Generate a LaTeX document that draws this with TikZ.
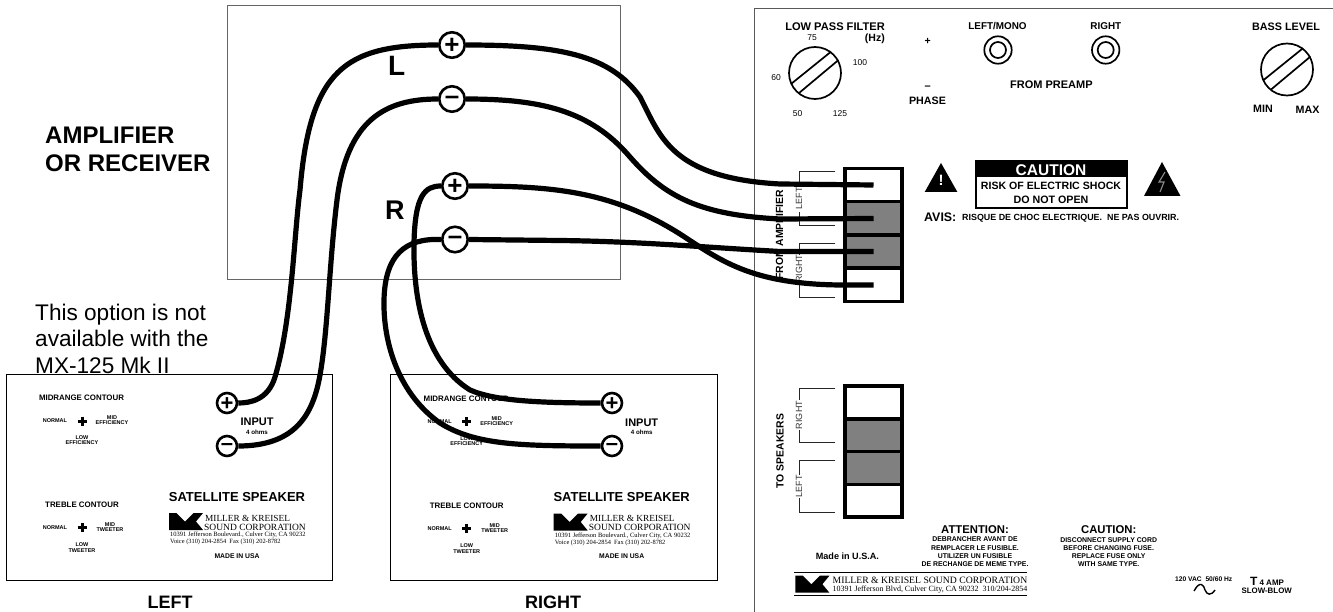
\documentclass[tikz,border=0pt]{standalone}
\usepackage{fontspec}
\setmainfont{Liberation Sans}
\newfontfamily\serifmk{Liberation Serif}
\newcommand\fs[1]{\fontsize{#1}{#1}\selectfont}
\tikzset{
  bt/.style={inner sep=0,font=\bfseries\fs{#1}},
  rt/.style={inner sep=0,font=\fs{#1}},
  st/.style={inner sep=0,anchor=west,font=\serifmk\fs{#1}},
  bl/.style 2 args={inner sep=0,align=center,font=\bfseries\fontsize{#1}{#2}\selectfont},
  rl/.style 2 args={inner sep=0,align=left,font=\fontsize{#1}{#2}\selectfont},
  spkbox/.style={draw=black,line width=1},
  wire/.style={draw=black,line width=5.2},
  termA/.style={circle,draw=black,fill=white,line width=2.6,minimum size=25.5,inner sep=0},
  termS/.style={circle,draw=black,fill=white,line width=2.6,minimum size=20,inner sep=0},
  signA/.style={inner sep=0,yshift=-1pt,font=\bfseries\fs{26}},
  signS/.style={inner sep=0,yshift=-1pt,font=\bfseries\fs{22}},
  cellw/.style={draw=black,fill=white,line width=3.4,minimum width=57,minimum height=#1,inner sep=0},
  cellg/.style={draw=black,fill=black!50,line width=3.4,minimum width=57,minimum height=#1,inner sep=0},
  brk/.style={draw=black!85,line width=0.9},
  knob/.style={draw=black,line width=1.7},
}
\newcommand\mklogo[2]{\fill[black,shift={(#1,#2)}] (0,0)--(7.5,0)--(16,8.5)--(24.5,0)--(34,0)--(27,8.5)--(34,17)--(0,17)--cycle;}
\newcommand\knobdraw[2]{%
  \begin{scope}[shift={(#1,#2)}]
  \draw[knob] (0,0) circle[radius=26];
  \draw[knob] (-23.4,10.5)--(16,-21.3);
  \draw[knob] (-15.6,19.7)--(23.5,-13);
  \end{scope}}
\newcommand\crosssym[2]{\draw[line width=3,black] (#1-4.5,#2)--(#1+4.5,#2) (#1,#2-4.5)--(#1,#2+4.5);}
\newcommand\speaker{%
  \node[bt=7.9] (mc) at (81.5,398) {MIDRANGE CONTOUR};
  \node[bt=5.5] (n1) at (55,421) {NORMAL};
  \crosssym{82}{421}
  \node[bl={5.5}{4.9}] (me) at (112,420.5) {MID\\EFFICIENCY};
  \node[bl={5.5}{5.2}] (le) at (82,440.5) {LOW\\EFFICIENCY};
  \node[bt=7.9] (tc) at (82,505) {TREBLE CONTOUR};
  \node[bt=5.5] (n2) at (55,528) {NORMAL};
  \crosssym{82}{527.5}
  \node[bl={5.5}{5.2}] (mt) at (110,527.5) {MID\\TWEETER};
  \node[bl={5.5}{6}] (lt) at (82,548) {LOW\\TWEETER};
  \node[bt=11] (inp) at (257,422) {INPUT};
  \node[bt=6.2] (oh) at (257,432) {4 ohms};
  \node[bt=13] (sat) at (237,497) {SATELLITE SPEAKER};
  \mklogo{169}{513}
  \node[st=9.3] (m1) at (205,518) {MILLER \& KREISEL};
  \node[st=9.5] (m2) at (204,527) {SOUND CORPORATION};
  \node[st=6.5] (m3) at (170,535) {10391 Jefferson Boulevard., Culver City, CA 90232};
  \node[st=6.4] (m4) at (170,542) {Voice (310) 204-2854~~Fax (310) 202-8782};
  \node[bt=6.8] (miu) at (237,556) {MADE IN USA};
}
\begin{document}
\begin{tikzpicture}[x=1pt,y=-1pt]
\useasboundingbox (0,0) rectangle (1333,612);
\fill[white] (0,0) rectangle (1333,612);
% amplifier
\node[draw=black!60,line width=1,minimum width=392.5,minimum height=274,inner sep=0] (amp) at (423.8,143) {};
\node[rl={24}{28},font=\bfseries\fontsize{24}{28}\selectfont,anchor=base west] (ampt) at (45,172) {AMPLIFIER\\OR RECEIVER};
\node[rl={22.6}{26.5},anchor=base west] (opt) at (35,373) {This option is not\\available with the\\MX-125 Mk II};
\node[bt=28,anchor=base west] (lL) at (388,76) {L};
\node[bt=27,anchor=base west] (lR) at (385,220) {R};
% speakers
\node[spkbox,minimum width=326,minimum height=206,inner sep=0] (spkL) at (169,477.5) {};
\node[spkbox,minimum width=327,minimum height=205.5,inner sep=0] (spkR) at (553.7,477.3) {};
\begin{scope}[name prefix=l-]\speaker\end{scope}
\begin{scope}[name prefix=r-,shift={(384.7,0.5)}]\speaker\end{scope}
\node[bt=18,anchor=base] (capL) at (170,608) {LEFT};
\node[bt=18,anchor=base] (capR) at (553,608) {RIGHT};
% panel
\draw[black!65,line width=1] (1333,9) -- (754,9) -- (754,612);
\node[bt=11.1] (lpf) at (835,27) {LOW PASS FILTER};
\node[bt=10.5,anchor=east] (hz) at (885,39) {(Hz)};
\node[rt=8.5] (f75) at (812,38) {75};
\node[rt=8.5] (f100) at (860,63) {100};
\node[rt=8.5] (f60) at (776,78) {60};
\node[rt=8.5] (f50) at (797.6,114) {50};
\node[rt=8.5] (f125) at (840,114) {125};
\knobdraw{815}{73}
\knobdraw{1287}{69.5}
\node[bt=10.5] (pp) at (927.7,41) {+};
\node[bt=11] (pm) at (927.7,88) {–};
\node[bt=10.7] (ph) at (927.5,101) {PHASE};
\node[bt=9.9] (lm) at (997.5,25.7) {LEFT/MONO};
\node[bt=9.9] (rg) at (1105.8,25.7) {RIGHT};
\draw[knob] (998,50) circle[radius=13.7] (998,50) circle[radius=8];
\draw[knob] (1105.7,50) circle[radius=13.7] (1105.7,50) circle[radius=8];
\node[bt=11] (fp) at (1051.4,85) {FROM PREAMP};
\node[bt=10.8] (bl) at (1286,27) {BASS LEVEL};
\node[bt=10.7] (mn) at (1263,109) {MIN};
\node[bt=10.7] (mx) at (1307.6,110) {MAX};
% warning
\fill[black] (941,163) -- (957.4,192) -- (924.7,192) -- cycle;
\node[bt=15,text=white] (ex) at (941,180.5) {!};
\fill[black] (1162,162) -- (1180.5,196) -- (1144,196) -- cycle;
\draw[black!45,line width=1.1] (1165,172) -- (1159,182) -- (1164,182) -- (1160,192);
\node[draw=black,fill=white,line width=1.2,minimum width=151,minimum height=47,inner sep=0] (cbox) at (1051.5,184.5) {};
\fill[black] (976,161) rectangle (1127,177);
\node[bt=15.5,text=white] (c1) at (1051,170.5) {CAUTION};
\node[bt=10.6] (c2) at (1051,186) {RISK OF ELECTRIC SHOCK};
\node[bt=10.7] (c3) at (1051,200) {DO NOT OPEN};
\node[bt=12.4,anchor=west] (av) at (924,217.5) {AVIS:};
\node[bt=8.9,anchor=west] (av2) at (962,218) {RISQUE DE CHOC ELECTRIQUE.\ \ NE PAS OUVRIR.};
% labels behind wires
\node[bt=10.4,rotate=90] (fa) at (779.5,235) {FROM AMPLIFIER};
\node[bt=10.4,rotate=90] (ts) at (780,451) {TO SPEAKERS};
\draw[brk] (835,171)--(799,171)--(799,187) (799,212)--(799,225)--(835,225);
\draw[brk] (835,243)--(799,243)--(799,255) (799,283)--(799,297)--(835,297);
\node[rt=9,rotate=90,text=black!80] (a-l) at (799,198.5) {LEFT};
\node[rt=9,rotate=90,text=black!80] (a-r) at (799,269) {RIGHT};
\draw[brk] (835,388)--(799,388)--(799,400) (799,430)--(799,442)--(835,442);
\draw[brk] (835,460)--(799,460)--(799,475) (799,498)--(799,512)--(835,512);
\node[rt=9,rotate=90,text=black!80] (s-r) at (799,415) {RIGHT};
\node[rt=9,rotate=90,text=black!80] (s-l) at (799,486.5) {LEFT};
% terminal strips
\node[cellw=33.5] (a1) at (873.5,185) {};
\node[cellw=33.5] (a4) at (873.5,285) {};
\node[cellg=33.5] (a2) at (873.5,218.5) {};
\node[cellg=33] (a3) at (873.5,251.5) {};
\node[cellw=33] (s1) at (873.5,402.5) {};
\node[cellw=33] (s4) at (873.5,500.5) {};
\node[cellg=33] (s2) at (873.5,435.5) {};
\node[cellg=32.5] (s3) at (873.5,468) {};
% bottom text
\node[bt=11.3] (at) at (975,530) {ATTENTION:};
\node[bl={6.9}{8.2}] (att) at (975,551.8) {DEBRANCHER AVANT DE\\REMPLACER LE FUSIBLE.\\UTILIZER UN FUSIBLE\\DE RECHANGE DE MEME TYPE.};
\node[bt=11.3] (ca) at (1108.7,530) {CAUTION:};
\node[bl={6.9}{8}] (cat) at (1108.7,551.7) {DISCONNECT SUPPLY CORD\\BEFORE CHANGING FUSE.\\REPLACE FUSE ONLY\\WITH SAME TYPE.};
\node[bt=9.1] (miu) at (847.4,556) {Made in U.S.A.};
\draw[black,line width=1.4] (794,572.7) -- (1027,572.7) (794,595.7) -- (1027,595.7);
\mklogo{795.4}{575.7}
\node[st=9.7] (mb1) at (832.5,580.5) {MILLER \& KREISEL SOUND CORPORATION};
\node[st=7.95] (mb2) at (832.5,589.7) {10391 Jefferson Blvd, Culver City, CA 90232~~310/204-2854};
\node[bt=6.7] (vac) at (1203.7,579.3) {120 VAC~~50/60 Hz};
\draw[black,line width=1.4] (1194,591) .. controls (1200,580) and (1204,585) .. (1205,590) .. controls (1207,595) and (1211,596) .. (1215,590);
\node[inner sep=0] (amp4) at (1267,581.7) {\bfseries\fs{12}T\fs{8} 4 AMP};
\node[bt=7.9] (slow) at (1266.7,590.5) {SLOW-BLOW};
% terminals
\node[termA,label={[signA]center:+}] (Lp) at (452,45) {};
\node[termA,label={[signA]center:–}] (Lm) at (452,99) {};
\node[termA,label={[signA]center:+}] (Rp) at (455,186) {};
\node[termA,label={[signA]center:–}] (Rm) at (455,239.5) {};
\node[termS,label={[signS]center:+}] (SLp) at (227,403) {};
\node[termS,label={[signS]center:–}] (SLm) at (227,446) {};
\node[termS,label={[signS]center:+}] (SRp) at (612,403) {};
\node[termS,label={[signS]center:–}] (SRm) at (612,446) {};
% wires
\draw[wire] (Lp.west) .. controls (345,45) and (310,70) .. (300,190) .. controls (294,235) and (292,320) .. (275,377) .. controls (268,400) and (250,403) .. (SLp.east);
\draw[wire] (Lm.west) .. controls (385,99) and (347,120) .. (337,200) .. controls (329,265) and (328,330) .. (320,375) .. controls (313,415) and (295,446) .. (SLm.east);
\draw[wire] (Lp.east) .. controls (560,45) and (610,55) .. (640,97) .. controls (660,135) and (670,178) .. (780,184) -- (a1.center);
\draw[wire] (Lm.east) .. controls (540,99) and (590,110) .. (630,157) .. controls (665,197) and (700,215) .. (780,219) -- (a2.center);
\draw[wire] (Rp.east) .. controls (550,186) and (610,190) .. (680,234) .. controls (720,260) and (750,284) .. (840,285) -- (a4.center);
\draw[wire] (Rm.east) -- (560,240.5) .. controls (640,241.5) and (700,247) .. (780,251.5) -- (a3.center);
\draw[wire] (Rp.west) .. controls (425,186) and (415,195) .. (414,243) .. controls (413,300) and (425,362) .. (470,390) .. controls (495,401) and (540,403) .. (SRp.west);
\draw[wire] (Rm.west) .. controls (405,238) and (385,255) .. (384,300) .. controls (383,345) and (400,395) .. (440,423) .. controls (475,445) and (520,446) .. (SRm.west);
\end{tikzpicture}
\end{document}
